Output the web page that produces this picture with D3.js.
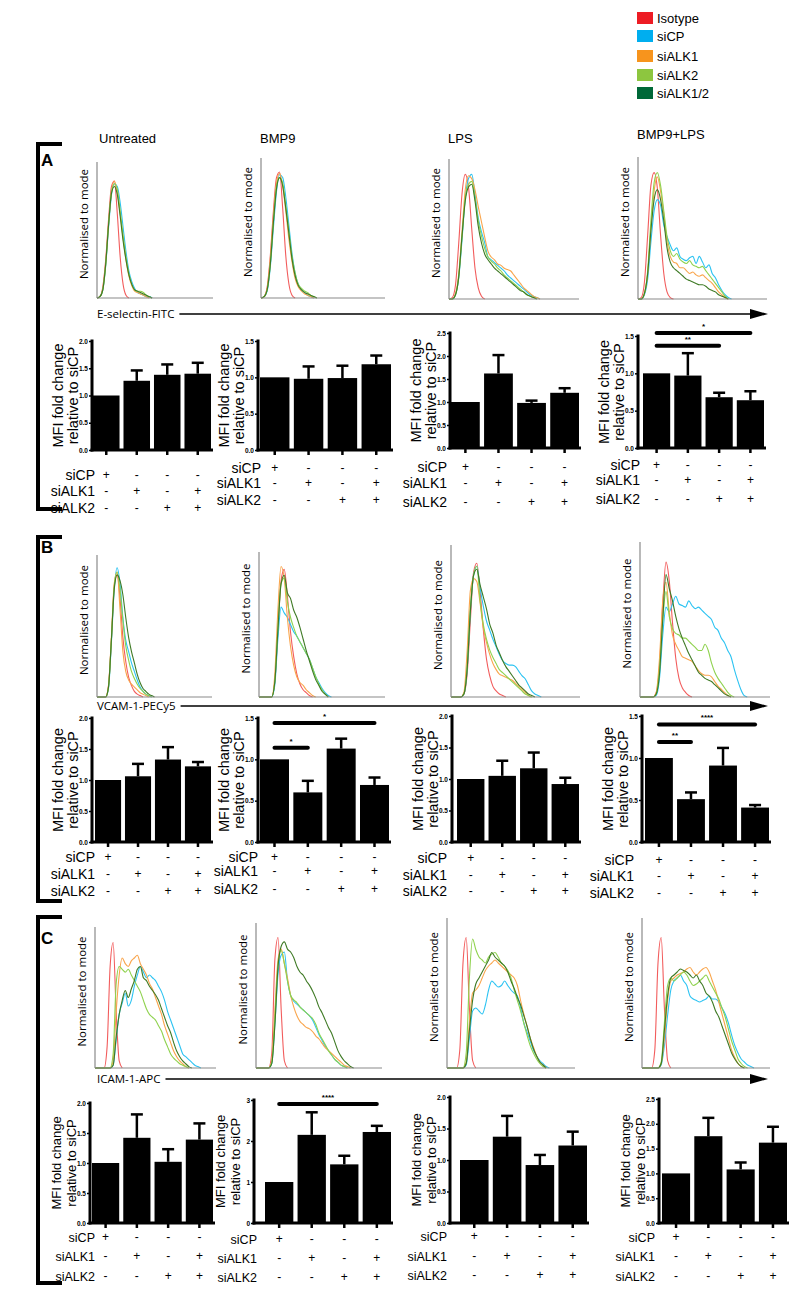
<!DOCTYPE html>
<html><head><meta charset="utf-8">
<script src="https://cdn.jsdelivr.net/npm/d3@7"></script>
<style>body{margin:0;background:#fff}svg{display:block}</style>
</head><body>
<svg id="fig" width="800" height="1297"></svg>
<script>
// ================= DATA =================
const seriesNames = ["Isotype","siCP","siALK1","siALK2","siALK1/2"];
const legendColors = ["#ed1c24","#00aeef","#f7941d","#8dc63f","#006838"];
const lineColors = ["#f25c5c","#2cc3f2","#f9a54c","#8fd24e","#3f7a25"];
const columnTitles = ["Untreated","BMP9","LPS","BMP9+LPS"];
const markers = ["E-selectin-FITC","VCAM-1-PECy5","ICAM-1-APC"];
const panelLetters = ["A","B","C"];
const rowLabels = ["siCP","siALK1","siALK2"];
const signs = [["+","-","-","-"],["-","+","-","+"],["-","-","+","+"]];

// histogram curves (normalised to mode, % of axis), order = seriesNames
const histA_Untreated = [
 [0,1,8,28,58,82,86,62,30,10,2,0],
 [0,1,6,24,52,76,84,82,70,52,34,20,12,7,4,3,2,1,1,0],
 [0,1,7,26,55,78,86,78,62,44,28,16,9,5,4,3,2,1,0],
 [0,1,6,24,54,78,84,80,64,46,30,18,10,6,5,5,4,2,1,0],
 [0,1,6,25,54,77,82,76,60,42,28,17,10,6,5,4,3,2,1,0]];
const histA_BMP9 = [
 [0,1,8,30,62,86,90,64,30,10,2,0],
 [0,1,5,22,50,76,88,86,72,52,32,18,10,6,4,2,1,0],
 [0,1,7,28,58,82,89,80,62,42,26,14,8,5,3,2,1,0],
 [0,1,6,24,54,80,86,82,66,48,30,18,10,7,5,4,2,1,0],
 [0,1,6,24,54,78,86,80,64,46,28,16,9,6,4,3,2,1,0]];
const histA_LPS = [
 [0,1,10,40,75,89,80,50,22,8,2,0],
 [0,0,3,15,42,72,86,89,75,58,48,40,30,28,26,24,22,20,17,15,13,11,9,7,5,3,2,1,0],
 [0,0,4,18,48,78,88,86,78,66,55,44,34,30,28,25,24,22,21,20,17,14,11,8,6,4,2,1,0],
 [0,0,3,16,44,72,82,84,72,56,45,36,30,27,25,22,20,17,15,13,11,9,7,5,3,2,1,0],
 [0,0,3,16,45,70,80,82,70,52,40,32,28,25,22,20,18,16,14,12,10,8,6,5,3,2,1,0]];
const histA_BMP9LPS = [
 [0,1,12,45,80,89,78,45,18,5,1,0],
 [0,0,3,14,40,62,70,66,52,44,38,34,36,30,28,27,29,30,25,30,26,22,24,18,15,10,6,3,1,0],
 [0,0,4,18,50,76,86,76,60,40,30,26,25,22,22,20,18,19,17,16,17,15,13,11,8,5,3,1,0],
 [0,0,4,20,55,82,89,80,62,44,34,30,32,28,26,25,27,24,23,22,23,20,17,14,11,8,5,2,0],
 [0,0,4,18,48,70,77,70,55,36,26,22,20,18,16,14,13,12,11,10,10,9,7,6,5,3,2,1,0]];

const histB_Untreated = [
 [0,0,0,0,8,40,78,86,70,42,25,14,8,4,2,1,0],
 [0,0,0,0,6,38,76,91,80,56,40,32,24,18,12,7,4,2,1,0],
 [0,0,0,0,8,42,80,88,62,32,18,12,9,7,5,3,2,1,0],
 [0,0,0,0,7,40,78,88,76,54,36,26,18,13,9,6,4,2,1,0],
 [0,0,0,0,7,40,76,86,82,72,56,42,32,24,16,10,6,4,2,1,0]];
const histB_BMP9 = [
 [0,0,0,0,0,10,45,80,88,70,45,28,16,9,5,3,1,0],
 [0,0,0,0,0,8,40,62,58,55,50,45,42,38,34,30,26,20,14,10,6,3,1,0],
 [0,0,0,0,0,15,60,90,82,55,35,22,14,10,8,5,3,1,0],
 [0,0,0,0,0,10,48,78,82,66,55,48,42,38,34,30,26,20,14,9,5,2,0],
 [0,0,0,0,0,10,46,78,84,72,68,60,55,48,40,32,25,18,12,8,4,2,0]];
const histB_LPS = [
 [0,0,0,0,2,15,50,82,88,70,45,25,14,7,4,2,1,0],
 [0,0,0,0,2,18,56,80,86,72,60,50,44,38,33,28,24,22,21,21,20,17,14,12,8,4,2,1,0],
 [0,0,0,0,3,30,70,78,76,62,46,36,28,22,18,15,14,13,12,11,9,7,5,3,1,0],
 [0,0,0,0,2,20,58,80,86,64,48,38,31,26,22,18,16,14,12,10,8,6,4,2,1,0],
 [0,0,0,0,2,18,56,80,84,74,66,58,48,42,34,29,24,20,17,14,11,8,6,4,2,1,0]];
const histB_BMP9LPS = [
 [0,0,0,0,0,3,20,60,87,75,48,25,12,6,3,1,0],
 [0,0,0,0,0,1,12,40,58,55,60,65,60,59,58,62,59,57,58,56,54,52,50,45,43,38,35,30,26,18,11,5,1,0],
 [0,0,0,0,0,3,25,62,74,55,40,34,30,26,25,24,23,20,17,15,14,14,13,10,7,5,3,1,0],
 [0,0,0,0,0,2,18,50,68,52,44,41,40,38,38,36,34,32,30,30,34,30,22,16,12,9,6,3,1,0],
 [0,0,0,0,0,2,15,50,79,70,62,52,44,38,33,28,24,20,16,14,12,11,10,8,6,4,2,1,0]];

const histC_Untreated = [
 [0,0,0,0,15,72,89,40,5,0],
 [0,0,0,0,0,0,2,20,38,46,53,44,48,58,66,72,68,64,66,64,62,58,54,48,40,34,28,22,16,10,8,6,4,2,1,0],
 [0,0,0,0,0,0,5,40,66,78,74,72,76,78,80,74,70,66,60,56,50,44,38,30,24,18,12,8,5,3,1,0],
 [0,0,0,0,0,0,10,60,72,70,68,70,66,62,58,54,48,42,38,36,34,30,26,20,15,10,7,5,3,2,1,0],
 [0,0,0,0,0,0,2,22,38,48,55,50,56,62,70,72,64,62,58,55,52,48,42,36,30,25,18,12,8,5,3,1,0]];
const histC_BMP9 = [
 [0,0,0,0,0,10,75,90,40,5,0],
 [0,0,0,0,0,3,30,65,78,80,60,50,46,44,42,40,38,36,33,28,23,19,15,12,9,6,4,2,1,0],
 [0,0,0,0,0,5,40,75,82,72,62,50,42,36,32,30,28,27,25,22,20,17,14,12,10,8,6,4,2,1,0],
 [0,0,0,0,0,4,35,72,81,72,60,50,47,45,42,40,38,36,34,30,24,20,16,12,9,6,4,2,1,0],
 [0,0,0,0,0,3,30,70,84,87,82,80,76,70,66,64,60,57,53,48,42,38,33,28,24,18,12,8,5,3,1,0]];
const histC_LPS = [
 [0,0,0,0,12,70,87,40,5,0],
 [0,0,0,0,0,0,2,20,38,40,38,36,42,52,58,56,54,55,58,55,52,50,48,40,30,24,18,12,8,5,3,1,0],
 [0,0,0,0,0,0,4,30,50,52,55,60,65,68,70,72,70,68,66,64,62,60,55,45,36,28,20,14,8,4,2,0],
 [0,0,0,0,0,0,10,60,86,79,74,72,70,74,76,77,74,70,68,65,60,52,45,38,30,22,15,10,6,3,1,0],
 [0,0,0,0,0,0,3,25,45,56,60,64,68,72,77,74,72,70,68,64,58,53,47,42,35,28,20,13,8,4,2,0]];
const histC_BMP9LPS = [
 [0,0,0,0,12,70,87,40,5,0],
 [0,0,0,0,0,0,2,15,35,52,58,60,62,58,55,48,46,45,44,45,46,48,46,46,44,40,36,30,22,15,10,6,4,2,1,0],
 [0,0,0,0,0,0,3,20,45,58,60,62,63,64,66,67,64,62,64,66,67,64,58,52,44,36,28,20,12,7,3,1,0],
 [0,0,0,0,0,0,4,30,55,60,58,60,62,64,62,58,55,56,58,60,62,58,54,50,46,40,34,26,18,12,6,3,1,0],
 [0,0,0,0,0,0,3,25,48,60,62,64,66,65,64,62,60,62,58,55,50,48,44,38,34,28,22,16,10,6,3,1,0]];

// bar charts: mean fold change, SEM, y-axis max, tick step
const meanA = [[1.0,1.27,1.38,1.40],[1.0,0.98,0.99,1.18],[1.0,1.62,0.98,1.20],[1.0,0.97,0.68,0.64]];
const semA  = [[0,0.19,0.19,0.20],[0,0.17,0.17,0.12],[0,0.40,0.05,0.10],[0,0.30,0.06,0.12]];
const meanB = [[1.0,1.06,1.33,1.22],[1.0,0.60,1.13,0.69],[1.0,1.05,1.17,0.92],[1.0,0.51,0.91,0.41]];
const semB  = [[0,0.20,0.20,0.07],[0,0.14,0.12,0.09],[0,0.24,0.25,0.10],[0,0.08,0.21,0.03]];
const meanC = [[1.0,1.42,1.02,1.39],[1.0,2.15,1.43,2.22],[1.0,1.37,0.92,1.23],[1.0,1.75,1.08,1.62]];
const semC  = [[0,0.39,0.21,0.27],[0,0.55,0.21,0.15],[0,0.33,0.16,0.22],[0,0.37,0.14,0.32]];
const yMaxA = [2.0,1.5,2.5,1.5];
const yMaxB = [2.0,1.5,2.0,1.5];
const yMaxC = [2.0,3,2.0,2.5];
const tickStepA = [0.5,0.5,0.5,0.5];
const tickStepB = [0.5,0.5,0.5,0.5];
const tickStepC = [0.5,1,0.5,0.5];
const sigA = [[],[],[],[{from:0,to:2,label:"**",y:1.37},{from:0,to:3,label:"*",y:1.54}]];
const sigB = [[],[{from:0,to:1,label:"*",y:1.14},{from:0,to:3,label:"*",y:1.44}],[],[{from:0,to:1,label:"**",y:1.19},{from:0,to:3,label:"****",y:1.40}]];
const sigC = [[],[{from:0,to:3,label:"****",y:2.90}],[],[]];

// ================= LAYOUT =================
const SANS = "'Liberation Sans', Arial, Helvetica, sans-serif";
const MYRIAD = "'Open Sans', 'Noto Sans', sans-serif";
const svg = d3.select("#fig");

const panels = [
 {letterY:166, br:[144,509], arrowY:314,
  hist:[[97,213,162,298],[261,385,158,298],[449,579,159,299],[638,767,157,299]],
  histData:[histA_Untreated,histA_BMP9,histA_LPS,histA_BMP9LPS],
  bars:[{ax:92,rx:212,x0:93,top:341,bot:450,rows:[475,491,508],right:95,fs:14.5},
        {ax:258,rx:392,x0:260,top:341,bot:450,rows:[468,483,500],right:261,fs:14.5},
        {ax:450,rx:580,x0:451,top:333,bot:448,rows:[467,483,502],right:447,fs:14.5},
        {ax:638,rx:765,x0:643,top:336,bot:448,rows:[465,480,499],right:640,fs:14.5}],
  mean:meanA, sem:semA, ymax:yMaxA, step:tickStepA, sig:sigA},
 {letterY:553, br:[537,901], arrowY:706,
  hist:[[97,212,555,697],[259,385,552,697],[451,580,545,697],[640,770,542,697]],
  histData:[histB_Untreated,histB_BMP9,histB_LPS,histB_BMP9LPS],
  bars:[{ax:92,rx:212,x0:95,top:718,bot:842,rows:[857,874,891],right:95,fs:14.5},
        {ax:258,rx:390,x0:260,top:718,bot:842,rows:[857,871,889],right:258,fs:14.5},
        {ax:452,rx:580,x0:457,top:716,bot:842,rows:[858,875,891],right:447,fs:14.5},
        {ax:642,rx:770,x0:645,top:716,bot:842,rows:[860,876,893],right:634,fs:14.5}],
  mean:meanB, sem:semB, ymax:yMaxB, step:tickStepB, sig:sigB},
 {letterY:944, br:[917,1283], arrowY:1079,
  hist:[[95,216,927,1068],[256,382,923,1068],[447,575,918,1068],[642,770,918,1068]],
  histData:[histC_Untreated,histC_BMP9,histC_LPS,histC_BMP9LPS],
  bars:[{ax:90,rx:214,x0:92,top:1103,bot:1223,rows:[1237,1256,1276],right:95,fs:13},
        {ax:254,rx:392,x0:265,top:1100,bot:1223,rows:[1239,1258,1277],right:257,fs:13},
        {ax:450,rx:588,x0:460,top:1097,bot:1223,rows:[1236,1256,1275],right:447,fs:13},
        {ax:659,rx:788,x0:662,top:1099,bot:1223,rows:[1237,1256,1276],right:655,fs:13}],
  mean:meanC, sem:semC, ymax:yMaxC, step:tickStepC, sig:sigC}
];

// ---------- legend ----------
const leg = svg.append("g");
seriesNames.forEach((n,i)=>{
  const y = [12,30,50,69,87][i];
  leg.append("rect").attr("x",637).attr("y",y).attr("width",16).attr("height",12).attr("fill",legendColors[i]);
  leg.append("text").attr("x",657).attr("y",y+11).attr("font-family",SANS).attr("font-size",13).text(n);
});

// ---------- column titles ----------
const titleX = [99,260,448,637];
columnTitles.forEach((t,i)=>{
  svg.append("text").attr("x",titleX[i]).attr("y",i===3?139:143).attr("font-family",SANS)
    .attr("font-size",13).text(t);
});

// ---------- functions ----------
function drawHist(box, curves){
  const [x0,x1,yt,yb] = box;
  const g = svg.append("g");
  const x = d3.scaleLinear().domain([0,40]).range([x0,x1]);
  const y = d3.scaleLinear().domain([0,100]).range([yb,yt]);
  const line = d3.line().x((d,i)=>x(i)).y(d=>y(d)).curve(d3.curveMonotoneX);
  curves.forEach((c,i)=>{
    g.append("path").attr("d",line(c)).attr("fill","none")
      .attr("stroke",lineColors[i]).attr("stroke-width",1.1).attr("stroke-linejoin","round");
  });
  g.append("line").attr("x1",x0).attr("x2",x1).attr("y1",yb).attr("y2",yb).attr("stroke","#8a8a8a").attr("stroke-width",1.2);
  g.append("line").attr("x1",x0).attr("x2",x0).attr("y1",yb).attr("y2",yt).attr("stroke","#8a8a8a").attr("stroke-width",1.2);
  g.append("text").attr("transform",`translate(${x0-9},${(yt+yb)/2-6}) rotate(-90)`)
    .attr("text-anchor","middle").attr("font-family",MYRIAD).attr("font-size",11.5).text("Normalised to mode");
}

function drawBars(cfg, means, sems, ymax, step, sigs){
  const g = svg.append("g");
  const y = d3.scaleLinear().domain([0,ymax]).range([cfg.bot,cfg.top]);
  const x = d3.scaleBand().domain([0,1,2,3]).range([cfg.x0,cfg.rx-1]).paddingInner(0.13).paddingOuter(0);
  means.forEach((m,i)=>{
    g.append("rect").attr("x",x(i)).attr("width",x.bandwidth()).attr("y",y(m)).attr("height",y(0)-y(m)).attr("fill","#000");
    if(sems[i]>0){
      const cx = x(i)+x.bandwidth()/2;
      g.append("line").attr("x1",cx).attr("x2",cx).attr("y1",y(m)).attr("y2",y(m+sems[i])).attr("stroke","#000").attr("stroke-width",2.5);
      g.append("line").attr("x1",cx-6).attr("x2",cx+6).attr("y1",y(m+sems[i])).attr("y2",y(m+sems[i])).attr("stroke","#000").attr("stroke-width",2.5);
    }
  });
  const yAxis = d3.axisLeft(y).tickValues(d3.range(0,ymax+1e-9,step)).tickSize(3).tickPadding(1)
      .tickFormat(step>=1?d3.format("d"):d3.format(".1f"));
  const ya = g.append("g").attr("transform",`translate(${cfg.ax},0)`).call(yAxis);
  ya.select(".domain").remove();
  ya.selectAll("line").attr("stroke","#000").attr("stroke-width",1.5);
  ya.selectAll("text").attr("font-family","'Liberation Sans Narrow', 'Liberation Sans', Arial, sans-serif")
    .attr("font-size",6.5).attr("font-weight","bold");
  g.append("line").attr("x1",cfg.ax).attr("x2",cfg.ax).attr("y1",cfg.bot+1.5).attr("y2",cfg.top-1.5).attr("stroke","#000").attr("stroke-width",3);
  g.append("line").attr("x1",cfg.ax-1.5).attr("x2",cfg.rx+1).attr("y1",cfg.bot).attr("y2",cfg.bot).attr("stroke","#000").attr("stroke-width",3);
  [0,1,2,3].forEach(i=>{
    const cx = x(i)+x.bandwidth()/2;
    g.append("line").attr("x1",cx).attr("x2",cx).attr("y1",cfg.bot).attr("y2",cfg.bot+5).attr("stroke","#000").attr("stroke-width",2.5);
  });
  const my = (cfg.top+cfg.bot)/2;
  g.append("text").attr("transform",`translate(${cfg.ax-29},${my}) rotate(-90)`).attr("text-anchor","middle")
    .attr("font-family",SANS).attr("font-size",cfg.fs).text("MFI fold change");
  g.append("text").attr("transform",`translate(${cfg.ax-14},${my}) rotate(-90)`).attr("text-anchor","middle")
    .attr("font-family",SANS).attr("font-size",cfg.fs).text("relative to siCP");
  sigs.forEach(s=>{
    const xa = x(s.from)+x.bandwidth()/2, xb = x(s.to)+x.bandwidth()/2;
    g.append("line").attr("x1",xa).attr("x2",xb).attr("y1",y(s.y)).attr("y2",y(s.y)).attr("stroke","#000").attr("stroke-width",4).attr("stroke-linecap","round");
    g.append("text").attr("x",(xa+xb)/2).attr("y",y(s.y)-4).attr("text-anchor","middle")
      .attr("font-family",SANS).attr("font-size",8).attr("font-weight","bold").text(s.label);
  });
  rowLabels.forEach((r,j)=>{
    g.append("text").attr("x",cfg.right).attr("y",cfg.rows[j]+5).attr("text-anchor","end")
      .attr("font-family",SANS).attr("font-size",cfg.fs-0.5).text(r);
    signs[j].forEach((s,i)=>{
      g.append("text").attr("x",x(i)+x.bandwidth()/2).attr("y",cfg.rows[j]+4).attr("text-anchor","middle")
        .attr("font-family",SANS).attr("font-size",12).text(s);
    });
  });
}

// ---------- draw panels ----------
panels.forEach((p,pi)=>{
  svg.append("path").attr("d",`M62,${p.br[0]} H38 V${p.br[1]} H62`).attr("fill","none")
    .attr("stroke","#000").attr("stroke-width",4);
  svg.append("text").attr("x",41).attr("y",p.letterY).attr("font-family",SANS).attr("font-weight","bold")
    .attr("font-size",17).text(panelLetters[pi]);
  p.hist.forEach((b,i)=>drawHist(b,p.histData[i]));
  const t = svg.append("text").attr("x",97).attr("y",p.arrowY+4).attr("font-family",MYRIAD).attr("font-size",11.5).text(markers[pi]);
  const tw = t.node().getComputedTextLength();
  svg.append("line").attr("x1",97+tw+5).attr("x2",752).attr("y1",p.arrowY).attr("y2",p.arrowY).attr("stroke","#000").attr("stroke-width",1.3);
  svg.append("path").attr("d",`M750,${p.arrowY-5} L768,${p.arrowY} L750,${p.arrowY+5} Z`).attr("fill","#000");
  p.bars.forEach((c,i)=>drawBars(c,p.mean[i],p.sem[i],p.ymax[i],p.step[i],p.sig[i]));
});
</script>
</body></html>
